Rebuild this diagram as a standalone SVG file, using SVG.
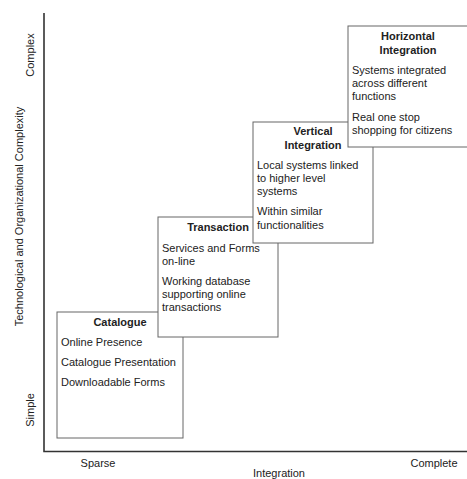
<svg xmlns="http://www.w3.org/2000/svg" width="467" height="479" viewBox="0 0 467 479">
<style>
text{font-family:"Liberation Sans",Arial,sans-serif;font-size:11px;fill:#222}
.b{font-weight:bold;text-anchor:middle}
.c{text-anchor:middle}
.box{fill:#fff;stroke:#666;stroke-width:1}
.axis{stroke:#333;stroke-width:1.6;fill:none}
</style>
<rect width="467" height="479" fill="#fff"/>
<g id="axes">
<path class="axis" d="M44,13 V451.5 H467"/>
<text class="c" transform="translate(33.5,55) rotate(-90)">Complex</text>
<text class="c" transform="translate(22.5,216.5) rotate(-90)">Technological and Organizational Complexity</text>
<text class="c" transform="translate(33.5,410) rotate(-90)">Simple</text>
<text class="c" x="98" y="467">Sparse</text>
<text class="c" x="434" y="467">Complete</text>
<text class="c" x="279" y="476.5">Integration</text>
</g>
<g id="connectors"></g>
<g id="catalogue">
<rect class="box" x="57" y="312" width="126" height="126"/>
<text class="b" x="120" y="325.5">Catalogue</text>
<text x="61" y="345.5">Online Presence</text>
<text x="61" y="366">Catalogue Presentation</text>
<text x="61" y="386">Downloadable Forms</text>
</g>
<g id="transaction">
<rect class="box" x="158" y="217" width="120" height="120"/>
<text class="b" x="218" y="231">Transaction</text>
<text x="162" y="251.5">Services and Forms</text>
<text x="162" y="264.5">on-line</text>
<text x="162" y="285">Working database</text>
<text x="162" y="297.5">supporting online</text>
<text x="162" y="311">transactions</text>
</g>
<g id="vertical">
<rect class="box" x="253" y="122" width="120" height="121"/>
<text class="b" x="313" y="135">Vertical</text>
<text class="b" x="313" y="148.5">Integration</text>
<text x="257" y="168.5">Local systems linked</text>
<text x="257" y="181.5">to higher level</text>
<text x="257" y="195">systems</text>
<text x="257" y="215">Within similar</text>
<text x="257" y="228.5">functionalities</text>
</g>
<g id="horizontal">
<rect class="box" x="348" y="26" width="120" height="121"/>
<text class="b" x="408" y="40">Horizontal</text>
<text class="b" x="408" y="53.5">Integration</text>
<text x="352" y="74">Systems integrated</text>
<text x="352" y="87">across different</text>
<text x="352" y="100">functions</text>
<text x="352" y="120.5">Real one stop</text>
<text x="352" y="133.5">shopping for citizens</text>
</g>
</svg>
